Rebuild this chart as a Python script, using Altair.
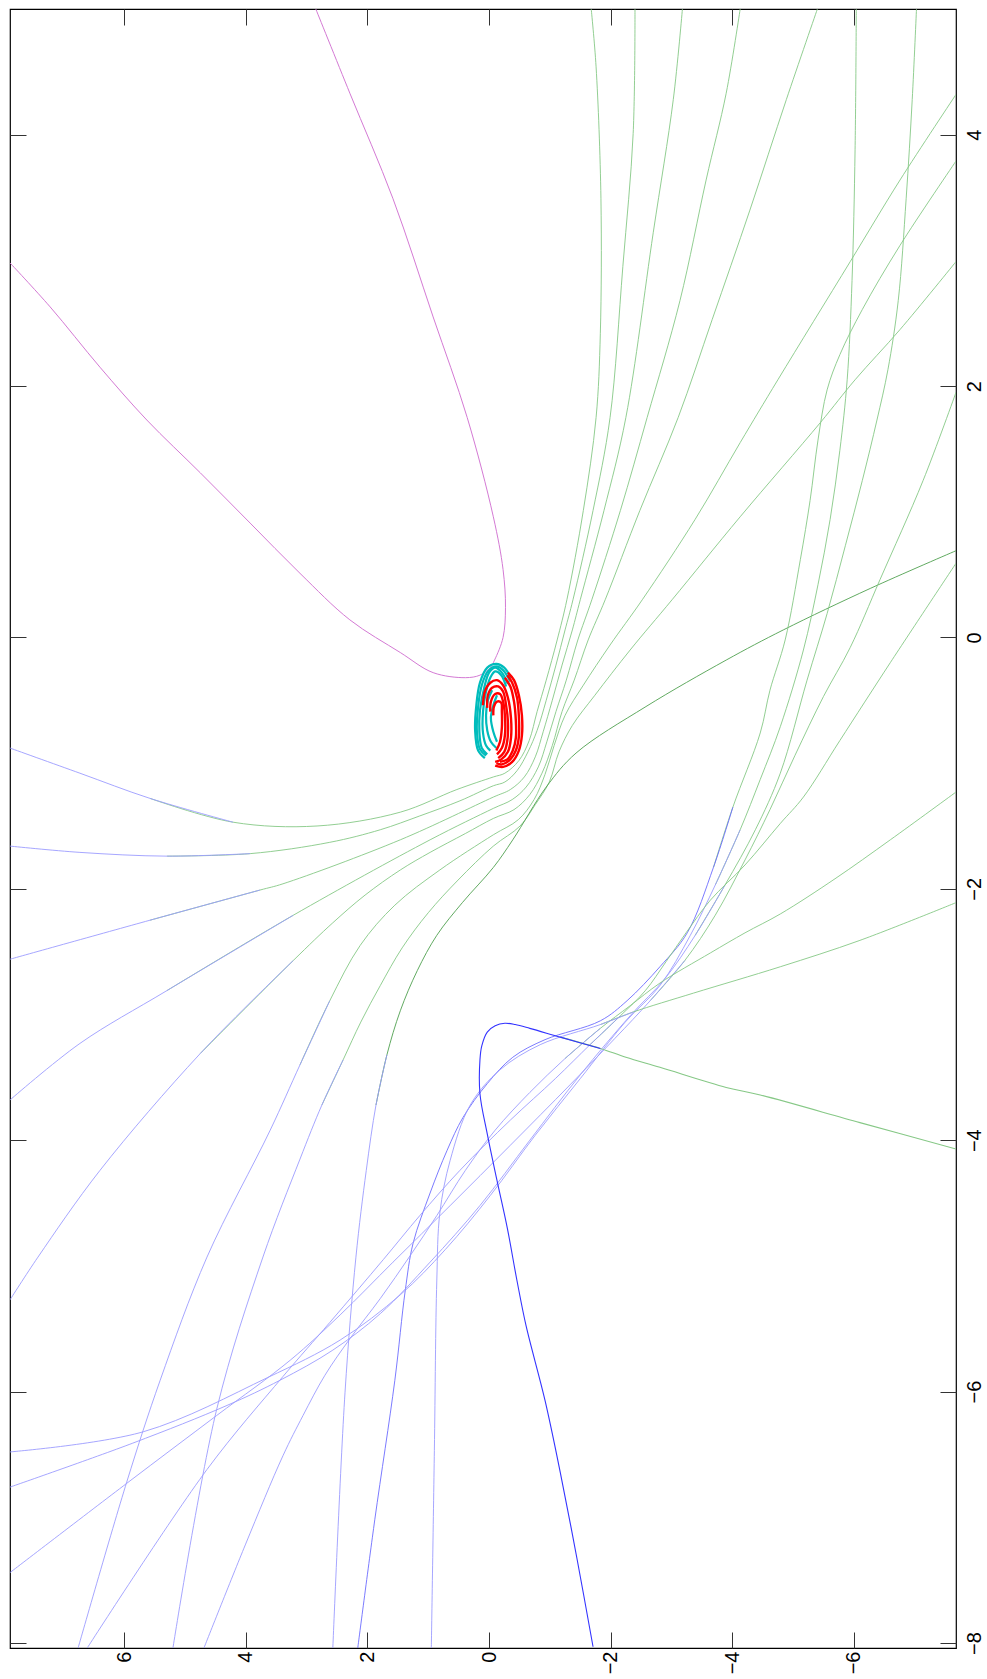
import altair as alt
import pandas as pd

# ---------------- axes ----------------
X_TICKS = [6, 4, 2, 0, -2, -4, -6]          # horizontal axis (bottom), 6 on the left
Y_TICKS = [4, 2, 0, -2, -4, -6, -8]         # vertical axis (right)
X_RANGE = [-7.68, 7.88]
Y_RANGE = [-8.04, 5.0]

# ---------------- curves: (horizontal value, vertical value) ----------------
MAGENTA = [(7.88, 2.98), (7.22, 2.63), (6.40, 2.15), (5.63, 1.73), (4.75, 1.31), (3.93, 0.91),
           (3.11, 0.51), (2.29, 0.14), (1.46, -0.12), (0.92, -0.28), (0.39, -0.32), (0.15, -0.30),
           (-0.02, -0.24), (-0.09, -0.18), (-0.23, 0.00), (-0.27, 0.24), (-0.23, 0.54), (-0.07, 0.96),
           (0.36, 1.75), (0.92, 2.55), (1.58, 3.49), (2.29, 4.33), (2.85, 5.00)]

F1 = [(-1.68, 5.00), (-1.76, 4.54), (-1.84, 3.49), (-1.83, 2.42), (-1.76, 1.75), (-1.55, 1.01), (-1.28, 0.30),
      (-1.12, -0.02), (-0.94, -0.34), (-0.79, -0.59), (-0.66, -0.82), (-0.49, -0.98), (-0.26, -1.08),
      (-0.07, -1.11), (0.53, -1.21), (1.46, -1.39), (2.83, -1.50), (4.21, -1.47), (5.58, -1.28),
      (6.73, -1.08), (7.88, -0.88)]
F2 = [(-2.40, 5.00), (-2.37, 4.01), (-2.20, 2.95), (-1.99, 1.75), (-1.71, 1.01), (-1.38, 0.30), (-1.25, 0.06),
      (-1.10, -0.22), (-0.94, -0.50), (-0.79, -0.74), (-0.64, -0.91), (-0.46, -1.06), (-0.26, -1.15),
      (-0.07, -1.18), (0.48, -1.30), (1.14, -1.42), (1.79, -1.53), (2.62, -1.63), (3.93, -1.72),
      (5.30, -1.74), (6.73, -1.71), (7.88, -1.66)]
F3 = [(-3.18, 5.00), (-3.03, 4.28), (-2.70, 3.22), (-2.25, 1.75), (-1.89, 1.01), (-1.50, 0.30), (-1.37, 0.06),
      (-1.20, -0.22), (-1.04, -0.50), (-0.89, -0.75), (-0.76, -0.95), (-0.58, -1.11), (-0.35, -1.21),
      (-0.07, -1.27), (1.46, -1.61), (3.39, -1.96), (3.77, -2.01), (5.58, -2.25), (7.88, -2.56)]
F4 = [(-4.13, 5.00), (-3.90, 4.33), (-3.57, 3.64), (-3.14, 2.68), (-2.60, 1.75), (-2.16, 1.01), (-1.69, 0.30),
      (-1.46, -0.02), (-1.27, -0.34), (-1.10, -0.59), (-0.95, -0.83), (-0.81, -1.03), (-0.61, -1.19),
      (-0.38, -1.29), (-0.07, -1.36), (0.97, -1.61), (3.22, -2.21), (5.30, -2.81), (6.73, -3.23), (7.88, -3.68)]
F5 = [(-5.40, 5.00), (-4.89, 4.28), (-4.29, 3.40), (-3.67, 2.53), (-3.11, 1.75), (-2.48, 1.01), (-1.91, 0.30),
      (-1.63, -0.02), (-1.40, -0.34), (-1.20, -0.59), (-1.04, -0.86), (-0.87, -1.08), (-0.67, -1.25),
      (-0.41, -1.37), (-0.07, -1.44), (0.39, -1.56), (0.97, -1.71), (1.46, -1.85), (2.04, -2.05),
      (2.57, -2.27), (3.22, -2.57), (4.75, -3.31), (6.40, -4.24), (7.42, -4.93), (7.88, -5.27)]
F6 = [(-7.68, 4.32), (-6.76, 3.64), (-5.94, 2.99), (-4.75, 2.05), (-4.13, 1.55), (-3.39, 0.94), (-2.52, 0.30),
      (-1.99, -0.06), (-1.55, -0.38), (-1.25, -0.62), (-1.07, -0.86), (-0.92, -1.09), (-0.74, -1.29),
      (-0.48, -1.45), (-0.07, -1.57), (0.81, -1.85), (1.55, -2.13), (2.12, -2.45), (2.62, -2.89),
      (3.11, -3.40), (3.60, -3.92), (4.64, -4.93), (5.41, -5.91), (5.96, -6.72), (6.76, -8.04)]
F7 = [(-7.68, 2.99), (-6.76, 2.45), (-6.02, 2.05), (-5.45, 1.71), (-4.13, 0.96), (-3.01, 0.30), (-2.32, -0.10),
      (-1.74, -0.46), (-1.37, -0.70), (-1.15, -0.91), (-0.99, -1.15), (-0.76, -1.33), (-0.51, -1.50),
      (-0.07, -1.66), (0.51, -1.93), (1.00, -2.19), (1.43, -2.47), (1.79, -2.77), (2.11, -3.06),
      (2.40, -3.36), (2.75, -3.72), (3.11, -4.15), (3.72, -4.93), (4.48, -6.14), (5.20, -8.04)]
S8 = [(-7.68, 0.69), (-6.27, 0.39), (-4.84, 0.06), (-3.90, -0.18), (-2.58, -0.55), (-1.43, -0.92),
      (-0.94, -1.19), (-0.39, -1.61), (-0.07, -1.83), (0.44, -2.11), (0.86, -2.37), (1.18, -2.65),
      (1.46, -2.97), (1.68, -3.32), (1.86, -3.72), (2.02, -4.24), (2.19, -4.93), (2.37, -6.01), (2.57, -8.04)]

XA = [(-7.68, 3.79), (-6.76, 3.12), (-6.14, 2.61), (-5.77, 2.25), (-5.56, 1.97), (-5.41, 1.57), (-5.28, 1.09),
      (-5.12, 0.62), (-4.87, -0.02), (-4.62, -0.42), (-4.46, -0.76), (-4.01, -1.35), (-3.69, -1.83),
      (-3.26, -2.35), (-2.81, -2.62), (-2.27, -2.89), (-1.83, -3.05), (-0.92, -3.20), (-0.39, -3.34),
      (0.03, -3.55), (0.43, -3.82), (0.69, -4.08), (0.97, -4.42), (1.25, -4.82), (1.38, -5.20),
      (1.55, -5.91), (1.88, -7.02), (2.16, -8.04)]
XB = [(-6.04, 5.00), (-6.02, 3.88), (-5.97, 2.84), (-5.89, 2.05), (-5.77, 1.49), (-5.61, 0.94), (-5.41, 0.42),
      (-5.17, -0.10), (-4.79, -0.71), (-4.46, -1.13), (-4.13, -1.53), (-3.72, -1.97), (-3.31, -2.37),
      (-2.81, -2.77), (-2.24, -3.06), (-1.50, -3.51), (-0.76, -3.96), (-0.02, -4.44), (0.72, -4.87),
      (1.46, -5.23), (2.45, -5.59), (3.65, -5.89), (5.69, -6.32), (7.88, -6.48)]
XC = [(-7.03, 5.00), (-6.96, 4.28), (-6.86, 3.49), (-6.73, 2.68), (-6.56, 2.13), (-6.38, 1.73), (-6.14, 1.25),
      (-5.86, 0.73), (-5.56, 0.19), (-5.23, -0.34), (-4.79, -1.08), (-4.38, -1.53), (-3.88, -1.97),
      (-3.39, -2.37), (-2.90, -2.71), (-2.32, -3.01), (-1.50, -3.48), (-0.67, -4.00), (0.15, -4.52),
      (0.97, -4.97), (1.79, -5.38), (2.57, -5.67), (3.44, -5.91), (4.31, -6.11), (5.86, -6.41), (7.88, -6.76)]
XD = [(-7.68, 1.95), (-7.14, 1.25), (-6.43, 0.46), (-5.94, -0.08), (-5.50, -0.47), (-5.03, -0.94), (-4.62, -1.37),
      (-4.21, -1.77), (-3.72, -2.21), (-3.22, -2.57), (-2.65, -2.89), (-2.07, -3.19), (-1.33, -3.56),
      (-0.35, -4.04), (0.64, -4.52), (1.58, -4.97), (2.45, -5.39), (3.27, -5.75), (4.48, -6.19),
      (5.96, -6.73), (7.88, -7.44)]
XE = [(-7.68, 0.59), (-6.60, -0.20), (-5.77, -0.82), (-5.17, -1.27), (-4.79, -1.48), (-4.21, -1.81), (-3.64, -2.09),
      (-3.24, -2.35), (-2.91, -2.58), (-2.57, -2.81), (-2.16, -3.01), (-1.66, -3.24), (-1.09, -3.51),
      (-0.35, -3.84), (0.48, -4.24), (1.14, -4.60), (1.74, -4.95), (2.62, -5.45), (3.39, -5.88),
      (4.64, -6.62), (6.61, -8.04)]
XF = [(-7.68, -1.23), (-6.60, -1.61), (-5.69, -1.92), (-4.79, -2.20), (-4.21, -2.35), (-3.64, -2.51),
      (-2.81, -2.75), (-2.32, -2.93), (-1.83, -3.11), (-1.25, -3.35), (-0.67, -3.62), (-0.10, -3.92),
      (0.39, -4.24), (0.86, -4.60), (1.30, -4.92), (1.79, -5.26), (2.29, -5.58), (2.70, -5.87),
      (3.06, -6.19), (3.39, -6.51), (4.01, -7.22), (4.69, -8.04)]
XG = [(-7.68, -2.11), (-6.10, -2.41), (-4.79, -2.62), (-3.36, -2.83), (-2.37, -2.98), (-1.83, -3.08),
      (-0.84, -3.24), (-0.18, -3.44), (0.31, -3.72), (0.64, -4.16), (0.81, -4.58), (0.86, -5.12),
      (0.90, -6.47), (0.95, -8.04)]
LOOP = [(-7.68, -4.07), (-6.10, -3.86), (-4.46, -3.64), (-3.90, -3.58), (-2.81, -3.42), (-2.25, -3.34),
        (-1.83, -3.27), (-1.17, -3.18), (-0.67, -3.11), (-0.43, -3.08), (-0.26, -3.07), (-0.10, -3.09),
        (0.03, -3.14), (0.12, -3.25), (0.15, -3.36), (0.15, -3.63), (0.03, -3.95), (-0.13, -4.32),
        (-0.30, -4.70), (-0.46, -5.12), (-0.61, -5.48), (-0.92, -6.07), (-1.17, -6.64), (-1.45, -7.34),
        (-1.71, -8.03)]

C1 = [(-0.36, -0.32), (-0.25, -0.24), (-0.12, -0.21), (0.03, -0.24), (0.15, -0.36), (0.21, -0.54), (0.23, -0.74), (0.18, -0.90), (0.07, -0.96)]
C2 = [(-0.35, -0.35), (-0.23, -0.26), (-0.12, -0.23), (0.02, -0.27), (0.12, -0.38), (0.18, -0.55), (0.20, -0.75), (0.15, -0.89), (0.05, -0.94)]
C3 = [(-0.31, -0.37), (-0.21, -0.28), (-0.10, -0.24), (0.00, -0.28), (0.08, -0.40), (0.15, -0.58), (0.16, -0.75), (0.12, -0.88), (0.03, -0.93)]
C4 = [(-0.28, -0.39), (-0.20, -0.30), (-0.10, -0.27), (-0.02, -0.32), (0.05, -0.43), (0.10, -0.59), (0.10, -0.76), (0.05, -0.86), (-0.02, -0.90)]
C5 = [(-0.05, -0.42), (0.02, -0.50), (0.05, -0.62), (0.03, -0.74), (-0.03, -0.83), (-0.12, -0.88)]
C6 = [(-0.13, -0.46), (-0.07, -0.54), (-0.03, -0.64), (-0.07, -0.75), (-0.13, -0.83)]

R1 = [(-0.31, -0.28), (-0.41, -0.34), (-0.49, -0.46), (-0.54, -0.62), (-0.54, -0.78), (-0.49, -0.90), (-0.38, -0.99), (-0.23, -1.03), (-0.10, -1.02)]
R2 = [(-0.30, -0.30), (-0.38, -0.36), (-0.46, -0.48), (-0.49, -0.63), (-0.49, -0.79), (-0.44, -0.90), (-0.35, -0.97), (-0.21, -1.01), (-0.12, -1.00)]
R3 = [(-0.26, -0.32), (-0.35, -0.39), (-0.41, -0.51), (-0.44, -0.66), (-0.44, -0.80), (-0.39, -0.90), (-0.30, -0.97), (-0.18, -0.99)]
R4 = [(0.10, -0.54), (0.07, -0.43), (-0.02, -0.36), (-0.13, -0.34), (-0.23, -0.38), (-0.31, -0.48), (-0.36, -0.64), (-0.36, -0.80), (-0.31, -0.91), (-0.20, -0.97), (-0.10, -0.99)]
R5 = [(0.03, -0.56), (0.02, -0.46), (-0.05, -0.40), (-0.15, -0.39), (-0.23, -0.43), (-0.28, -0.54), (-0.31, -0.67), (-0.30, -0.82), (-0.25, -0.91), (-0.15, -0.96)]
R6 = [(-0.02, -0.59), (-0.03, -0.51), (-0.10, -0.45), (-0.18, -0.45), (-0.23, -0.51), (-0.26, -0.62), (-0.26, -0.78), (-0.21, -0.88), (-0.13, -0.93)]
R7 = [(-0.07, -0.62), (-0.08, -0.55), (-0.13, -0.51), (-0.20, -0.52), (-0.21, -0.59), (-0.21, -0.72), (-0.18, -0.83), (-0.12, -0.90)]

# ---------------- styles ----------------
GREEN = "#86c886"
DKGREEN = "#4fa04f"
BLUE = "#9c9cff"
MIDBLUE = "#6c6cff"
DKBLUE = "#3333ff"
MAG = "#d47ad4"
RED = "#ff0000"
CYAN = "#00bcbc"

# name, points, index where the blue part begins, first colour, second colour, width, layer
LINES = [
    ("F1", F1, 17, GREEN, BLUE, 0.9, 0), ("F2", F2, 18, GREEN, BLUE, 0.9, 0),
    ("F3", F3, 16, GREEN, BLUE, 0.9, 0), ("F4", F4, 16, GREEN, BLUE, 0.9, 0),
    ("F5", F5, 20, GREEN, BLUE, 0.9, 0), ("F6", F6, 18, GREEN, BLUE, 0.9, 0),
    ("F7", F7, 19, GREEN, BLUE, 0.9, 0), ("S8", S8, 13, DKGREEN, BLUE, 0.9, 0),
    ("XA", XA, 11, GREEN, MIDBLUE, 0.9, 0), ("XB", XB, 10, GREEN, BLUE, 0.9, 0),
    ("XC", XC, 12, GREEN, BLUE, 0.9, 0), ("XD", XD, 9, GREEN, BLUE, 0.9, 0),
    ("XE", XE, 10, GREEN, BLUE, 0.9, 0), ("XF", XF, 8, GREEN, BLUE, 0.9, 0),
    ("XG", XG, 4, GREEN, BLUE, 0.9, 0), ("LOOP", LOOP, 6, GREEN, DKBLUE, 1.1, 0),
    ("MAG", MAGENTA, None, MAG, MAG, 1.0, 1),
]
for i, c in enumerate([C1, C2, C3, C4, C5, C6]):
    LINES.append((f"C{i+1}", c, None, CYAN, CYAN, 2.2, 2))
for i, r in enumerate([R1, R2, R3, R4, R5, R6, R7]):
    LINES.append((f"R{i+1}", r, None, RED, RED, 2.4, 3))

rows = []
for name, pts, split, c1, c2, w, layer in LINES:
    for k, (h, v) in enumerate(pts):
        if split is None or k <= split + 1:
            rows.append(dict(seg=name + "_a", k=k, H=h, V=v, col=c1, w=w, layer=layer))
        if split is not None and k >= split:
            rows.append(dict(seg=name + "_b", k=k, H=h, V=v, col=c2, w=w, layer=layer))
df = pd.DataFrame(rows)

xscale = alt.Scale(domain=X_RANGE, reverse=True, nice=False, zero=False)
yscale = alt.Scale(domain=Y_RANGE, nice=False, zero=False)

common = dict(title=None, grid=False, domain=False, tickSize=16, offset=-16,
              tickColor="#333333", tickWidth=1, labelFlush=False, labelOverlap=False)

ax_bottom = alt.Axis(orient="bottom", values=X_TICKS, labelAngle=270, labelAlign="right",
                     labelBaseline="middle", labelFontSize=20, labelFont="Liberation Sans",
                     labelColor="black", labelPadding=3, **common)
ax_right = alt.Axis(orient="right", values=Y_TICKS, labelAngle=270, labelAlign="center",
                    labelBaseline="top", labelFontSize=20, labelFont="Liberation Sans",
                    labelColor="black", labelPadding=8, **common)
ax_top = alt.Axis(orient="top", values=X_TICKS, labels=False, **common)
ax_left = alt.Axis(orient="left", values=Y_TICKS, labels=False, **common)


def layer_chart(layer_id, xa, ya):
    return alt.Chart(df[df.layer == layer_id]).mark_line(
        interpolate="catmull-rom", clip=True
    ).encode(
        x=alt.X("H:Q", scale=xscale, axis=xa),
        y=alt.Y("V:Q", scale=yscale, axis=ya),
        detail="seg:N",
        order="k:Q",
        color=alt.Color("col:N", scale=None),
        strokeWidth=alt.StrokeWidth("w:Q", scale=None),
    )


base = layer_chart(0, ax_bottom, ax_right)
frame = layer_chart(1, ax_top, ax_left)
cyan = layer_chart(2, None, None)
red = layer_chart(3, None, None)

chart = alt.layer(base, frame, cyan, red).resolve_axis(
    x="independent", y="independent"
).properties(
    width=946, height=1639,
    autosize=alt.AutoSizeParams(type="none"),
    padding={"left": 10, "top": 9, "right": 31, "bottom": 31},
).configure_view(stroke="black", strokeWidth=1.2)

chart.save("out.html", embed_options={"renderer": "svg", "actions": False})
